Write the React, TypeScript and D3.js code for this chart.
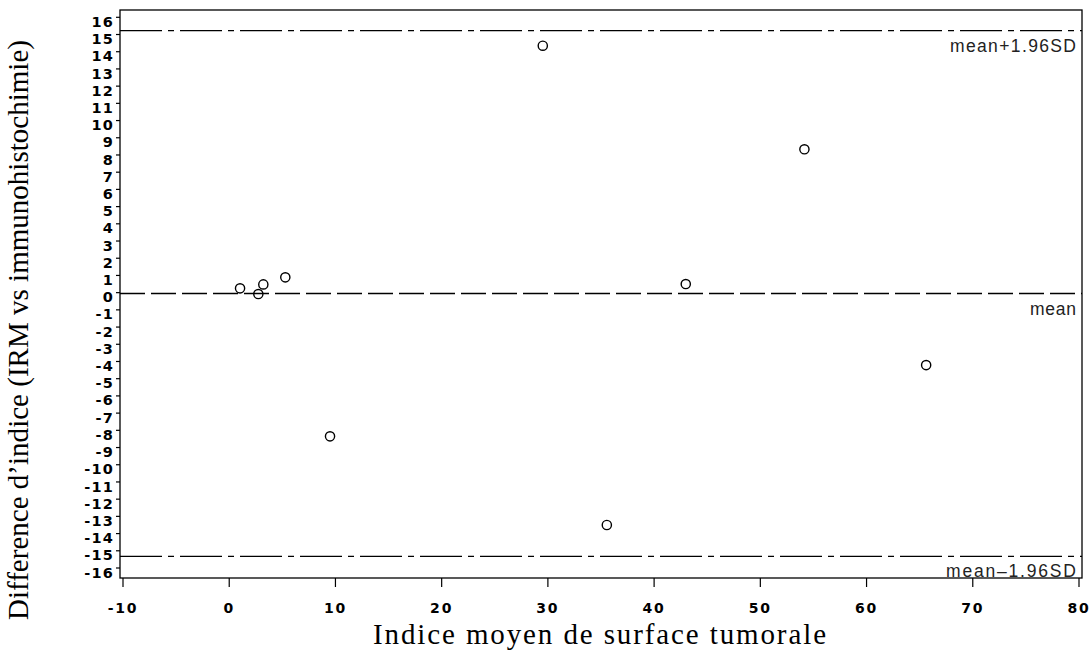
import React from "react";
import * as d3 from "d3";

const meanX: number[] = [29.52, 54.15, 1.02, 2.74, 3.21, 5.28, 42.98, 65.61, 9.49, 35.55];
const diffY: number[] = [14.35, 8.33, 0.25, -0.08, 0.48, 0.89, 0.5, -4.21, -8.35, -13.5];
const xTicks: number[] = [-10, 0, 10, 20, 30, 40, 50, 60, 70, 80];
const yTicks: number[] = d3.range(-16, 17);
const refValues: number[] = [15.22, -0.05, -15.32];
const refLabels: string[] = ["mean+1.96SD", "mean", "mean\u20131.96SD"];
const refLabelWidths: number[] = [126, 46, 130];

export default function App() {
  const W = 1091, H = 652;
  const left = 120, right = 1082, top = 10, bottom = 578;
  const x = d3.scaleLinear().domain([-10, 80]).range([123, 1079]);
  const y = d3.scaleLinear().domain([-16, 16]).range([568, 17.3]);
  const tickFont = "'DejaVu Sans', sans-serif";
  const serif = "'Liberation Serif', 'Times New Roman', serif";
  return (
    <svg width={W} height={H} style={{ position: "absolute", left: 0, top: 0, background: "#fff" }}>
      <rect x={left} y={top} width={right - left} height={bottom - top} fill="none" stroke="#000" strokeWidth={1.3} />
      {yTicks.map((t) => (
        <g key={"y" + t}>
          <line x1={left - 4} x2={left} y1={y(t)} y2={y(t)} stroke="#000" strokeWidth={1.2} />
          <text x={left - 6} y={y(t) + 4.5} dy="0.35em" textAnchor="end" fontFamily={tickFont} fontWeight="bold" fontSize={14.5} letterSpacing={1.2}>
            {t < 0 ? "-" + Math.abs(t) : String(t)}
          </text>
        </g>
      ))}
      {xTicks.map((t) => (
        <g key={"x" + t}>
          <line x1={x(t)} x2={x(t)} y1={bottom} y2={bottom + 9} stroke="#000" strokeWidth={1.2} />
          <text x={x(t)} y={608} dy="0.35em" textAnchor="middle" fontFamily={tickFont} fontWeight="bold" fontSize={14} letterSpacing={1.8}>
            {t < 0 ? "-" + Math.abs(t) : String(t)}
          </text>
        </g>
      ))}
      {refValues.map((v, i) => (
        <g key={"r" + i}>
          <line x1={left} x2={right} y1={y(v)} y2={y(v)} stroke="#000" strokeWidth={1.3}
            strokeDasharray={i === 1 ? "25 6" : "42 6 6 6"} />
          <text x={right - 6 - refLabelWidths[i]} y={y(v) + 15} dy="0.35em" textAnchor="start" fontFamily="'Liberation Sans', Arial, sans-serif" fontSize={17.5} fill="#222"
            textLength={refLabelWidths[i]} lengthAdjust="spacing">
            {refLabels[i]}
          </text>
        </g>
      ))}
      {meanX.map((mx, i) => (
        <circle key={"p" + i} cx={x(mx)} cy={y(diffY[i])} r={4.6} fill="none" stroke="#000" strokeWidth={1.4} />
      ))}
      <text x={373} y={634} dy="0.35em" textAnchor="start" fontFamily={serif} fontSize={29} textLength={453} lengthAdjust="spacing">
        Indice moyen de surface tumorale
      </text>
      <text transform={`translate(18,620) rotate(-90)`} dy="0.35em" textAnchor="start" fontFamily={serif} fontSize={29} textLength={580} lengthAdjust="spacing">
        Difference d’indice (IRM vs immunohistochimie)
      </text>
    </svg>
  );
}
